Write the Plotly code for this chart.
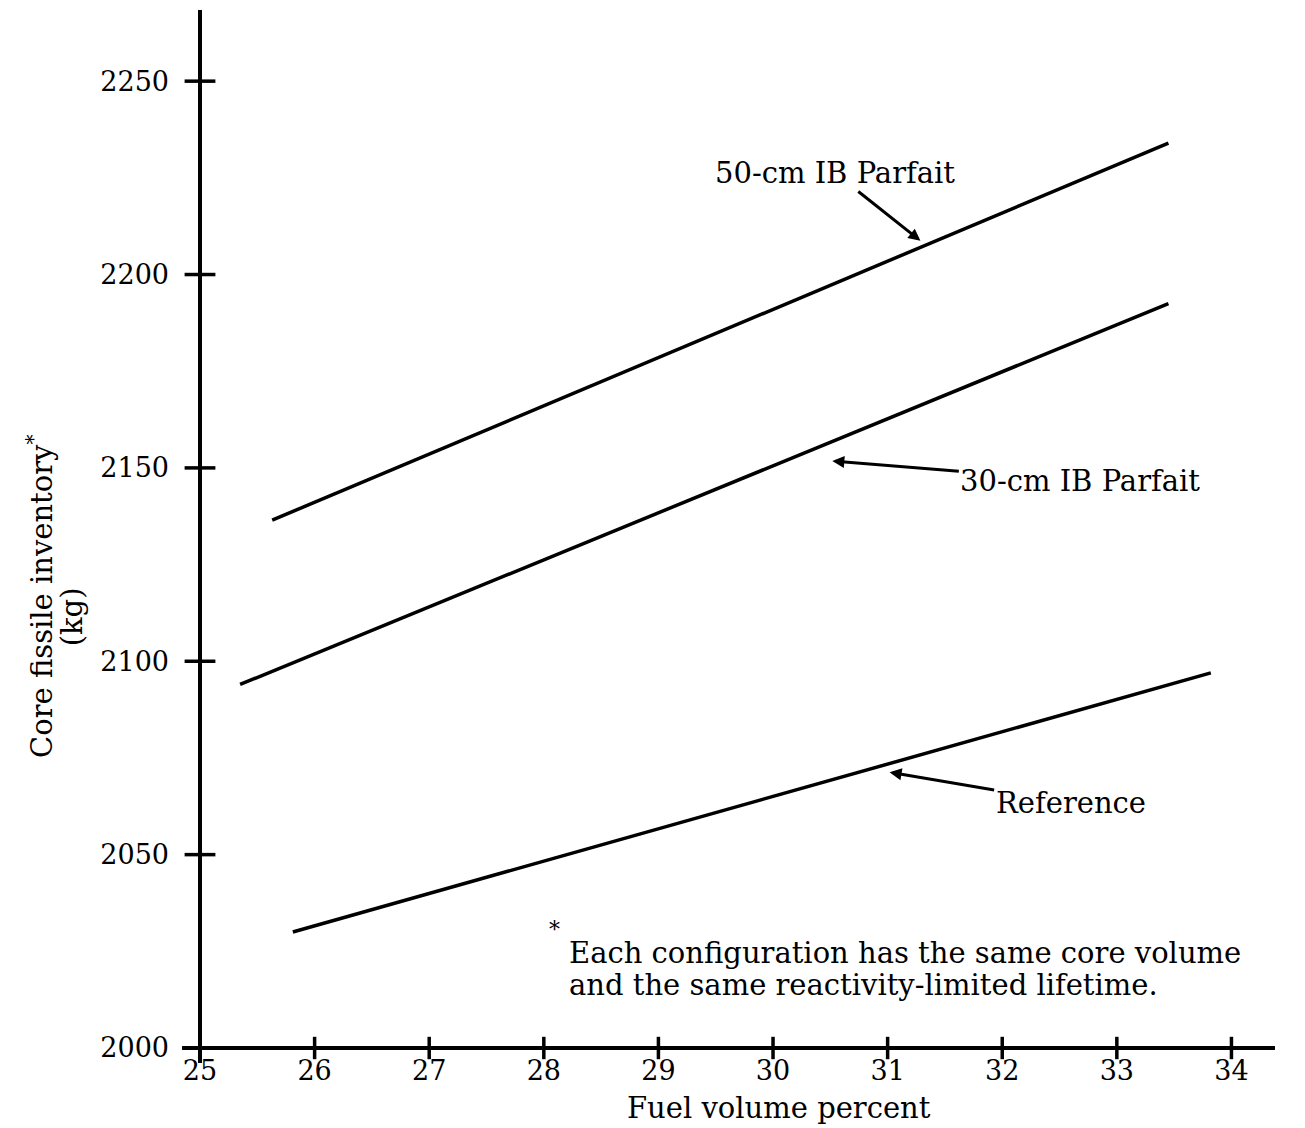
import plotly.graph_objects as go

# ---- data ----
fuel_x_50 = [25.63, 33.45]
inv_50 = [2136.5, 2234.0]
fuel_x_30 = [25.35, 33.45]
inv_30 = [2094.0, 2192.5]
fuel_x_ref = [25.81, 33.82]
inv_ref = [2030.0, 2097.0]

x_ticks = [25, 26, 27, 28, 29, 30, 31, 32, 33, 34]
y_ticks = [2000, 2050, 2100, 2150, 2200, 2250]

FONT = "DejaVu Serif"
TXT = 29
fig = go.Figure()

line_style = dict(color="black", width=3.5)
fig.add_trace(go.Scatter(x=fuel_x_50, y=inv_50, mode="lines", line=line_style, showlegend=False))
fig.add_trace(go.Scatter(x=fuel_x_30, y=inv_30, mode="lines", line=line_style, showlegend=False))
fig.add_trace(go.Scatter(x=fuel_x_ref, y=inv_ref, mode="lines", line=line_style, showlegend=False))

# crossing tick marks
fig.add_trace(go.Scatter(x=x_ticks[1:], y=[y_ticks[0]] * (len(x_ticks) - 1), mode="markers",
                         marker=dict(symbol="line-ns", size=16, line=dict(width=3.5, color="black")),
                         cliponaxis=False, showlegend=False, hoverinfo="skip"))
fig.add_trace(go.Scatter(x=[x_ticks[0]] * (len(y_ticks) - 1), y=y_ticks[1:], mode="markers",
                         marker=dict(symbol="line-ew", size=22, line=dict(width=3.5, color="black")),
                         cliponaxis=False, showlegend=False, hoverinfo="skip"))

# axis lines (x axis extends slightly left, y axis slightly below)
fig.add_shape(type="line", xref="paper", yref="paper", x0=-0.0167, x1=1, y0=0, y1=0,
              line=dict(color="black", width=4))
fig.add_shape(type="line", xref="paper", yref="paper", x0=0, x1=0, y0=-0.0145, y1=1,
              line=dict(color="black", width=4))

ann_font = dict(family=FONT, size=TXT, color="black")
arrow = dict(showarrow=True, arrowhead=2, arrowwidth=3, arrowsize=0.8, arrowcolor="black", standoff=2)
fig.add_annotation(x=31.30, y=2208.4, ax=-87, ay=-69, text="50-cm IB Parfait", font=ann_font, **arrow)
fig.add_annotation(x=30.50, y=2151.8, ax=250, ay=20, text="30-cm IB Parfait", font=ann_font, **arrow)
fig.add_annotation(x=31.00, y=2071.4, ax=183, ay=31, text="Reference", font=ann_font, **arrow)

# footnote
fig.add_annotation(xref="paper", yref="paper", x=0.330, y=0.114, xanchor="center", yanchor="middle",
                   text="*", showarrow=False, font=dict(family=FONT, size=22, color="black"))
fig.add_annotation(xref="paper", yref="paper", x=0.3414, y=0.0915, xanchor="left", yanchor="middle",
                   text="Each configuration has the same core volume", showarrow=False, font=ann_font)
fig.add_annotation(xref="paper", yref="paper", x=0.3414, y=0.0607, xanchor="left", yanchor="middle",
                   text="and the same reactivity-limited lifetime.", showarrow=False, font=ann_font)

# y title (two lines)
fig.add_annotation(xref="paper", yref="paper", x=-0.1488, y=0.4355, xanchor="center", yanchor="middle",
                   textangle=-90, showarrow=False,
                   text="Core fissile inventory<sup>*</sup>", font=ann_font)
fig.add_annotation(xref="paper", yref="paper", x=-0.119, y=0.415, xanchor="center", yanchor="middle",
                   textangle=-90, showarrow=False, text="(kg)", font=ann_font)

# x title
fig.add_annotation(xref="paper", yref="paper", x=0.5386, y=-0.0578, xanchor="center", yanchor="middle",
                   showarrow=False, text="Fuel volume percent", font=ann_font)

fig.update_layout(
    width=1305, height=1128,
    margin=dict(l=200, r=30, t=10, b=80),
    paper_bgcolor="white", plot_bgcolor="white",
    font=dict(family=FONT, size=27, color="black"),
    xaxis=dict(range=[25, 34.38], tickvals=x_ticks, ticktext=[str(v) for v in x_ticks],
               showgrid=False, zeroline=False, showline=False, ticks="", ticklabelstandoff=4,
               tickfont=dict(family=FONT, size=27, color="black")),
    yaxis=dict(range=[2000, 2268.4], tickvals=y_ticks, ticktext=[str(v) for v in y_ticks],
               showgrid=False, zeroline=False, showline=False, ticks="", ticklabelstandoff=30,
               tickfont=dict(family=FONT, size=27, color="black")),
)

fig.write_html("out.html")
